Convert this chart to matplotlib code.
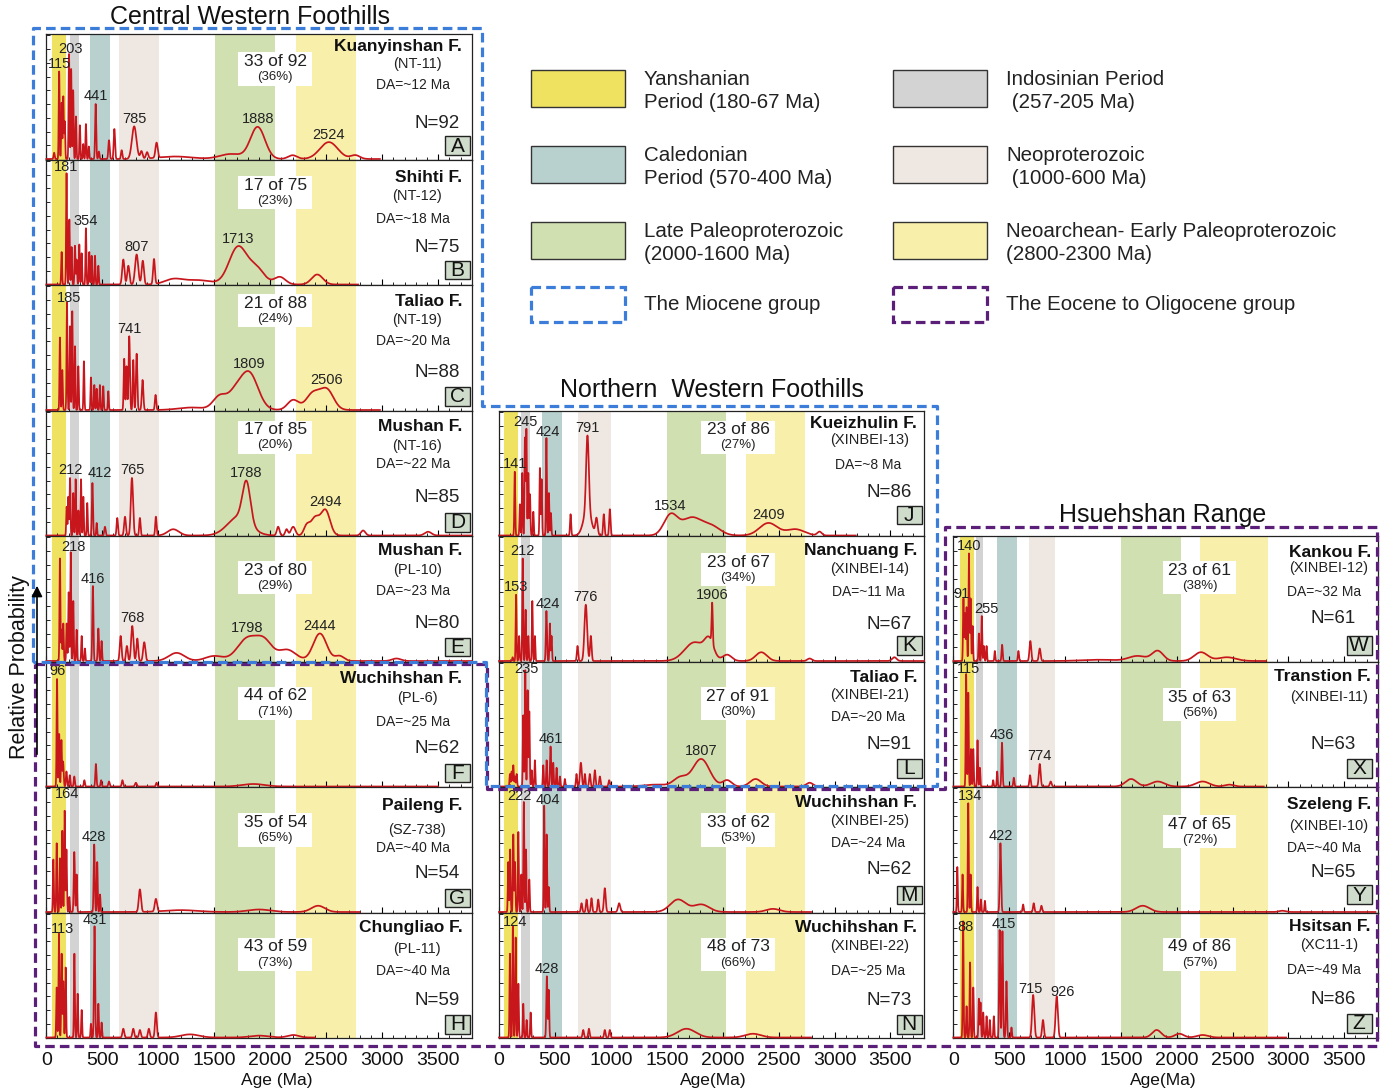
import numpy as np
import matplotlib
matplotlib.use("Agg")
import matplotlib.pyplot as plt
from matplotlib.patches import Rectangle
from matplotlib.ticker import MultipleLocator

plt.rcParams["font.family"] = ["Liberation Sans", "DejaVu Sans"]

W, H = 1380, 1091

# shaded age intervals (Ma), one set per column
BAND_COLORS = ["#efe261", "#d3d3d3", "#b8d1cf", "#efe7e1", "#d1e0b1", "#f8f0aa"]
BANDS_LEFT = [(48, 173), (212, 292), (391, 570), (650, 1007), (1506, 2042), (2230, 2766)]
BANDS_MID = [(45, 167), (196, 277), (384, 560), (705, 997), (1500, 2033), (2205, 2738)]
BANDS_RIGHT = [(60, 182), (202, 262), (390, 570), (676, 908), (1500, 2035), (2205, 2821)]

# probability density components: (age Ma, relative height, spread Ma)
PEAKS_A = [(70, 0.05, 5), (115, 0.70, 4), (137, 0.45, 4), (152, 0.50, 4), (165, 0.30, 4),
           (203, 0.84, 4), (222, 0.72, 4), (240, 0.55, 4), (265, 0.34, 4), (300, 0.27, 4),
           (330, 0.12, 4), (354, 0.28, 4), (380, 0.10, 4), (441, 0.44, 5), (470, 0.06, 5),
           (560, 0.15, 6), (608, 0.24, 6), (673, 0.07, 6), (785, 0.26, 20), (850, 0.06, 10),
           (900, 0.05, 10), (985, 0.12, 10), (1150, 0.02, 150), (1650, 0.04, 100),
           (1888, 0.255, 65), (2200, 0.03, 40), (2524, 0.135, 80), (2760, 0.03, 40)]
PEAKS_B = [(137, 0.26, 4), (181, 0.89, 4), (206, 0.52, 4), (226, 0.30, 4), (256, 0.31, 4),
           (271, 0.20, 4), (295, 0.32, 4), (316, 0.25, 4), (354, 0.45, 4), (384, 0.26, 4),
           (405, 0.23, 4), (435, 0.23, 4), (465, 0.15, 4), (688, 0.20, 10), (733, 0.15, 10),
           (807, 0.24, 14), (862, 0.19, 10), (962, 0.20, 8), (1134, 0.04, 80), (1350, 0.035, 120),
           (1713, 0.30, 80), (1880, 0.12, 70), (2086, 0.06, 50), (2420, 0.08, 50)]
PEAKS_C = [(122, 0.58, 4), (143, 0.32, 4), (185, 0.86, 4), (212, 0.67, 4), (232, 0.79, 4),
           (256, 0.51, 4), (286, 0.35, 4), (336, 0.39, 4), (399, 0.26, 4), (429, 0.20, 4),
           (450, 0.17, 4), (479, 0.20, 4), (509, 0.19, 4), (554, 0.15, 4), (696, 0.41, 5),
           (717, 0.35, 5), (741, 0.59, 6), (777, 0.40, 5), (807, 0.45, 6), (860, 0.24, 7),
           (976, 0.12, 6), (1300, 0.02, 120), (1551, 0.11, 60), (1680, 0.10, 60),
           (1809, 0.30, 80), (2205, 0.08, 50), (2380, 0.13, 60), (2506, 0.16, 60)]
PEAKS_D = [(182, 0.23, 4), (197, 0.31, 4), (212, 0.46, 4), (241, 0.34, 4), (262, 0.45, 4),
           (286, 0.20, 4), (310, 0.45, 4), (331, 0.31, 4), (366, 0.26, 4), (412, 0.42, 5),
           (450, 0.10, 4), (524, 0.07, 6), (634, 0.14, 6), (703, 0.15, 8), (765, 0.46, 10),
           (836, 0.14, 6), (979, 0.15, 6), (1134, 0.05, 50), (1720, 0.15, 100), (1788, 0.32, 35),
           (2071, 0.07, 12), (2146, 0.05, 12), (2205, 0.07, 20), (2325, 0.07, 25),
           (2400, 0.14, 40), (2494, 0.20, 40), (2830, 0.04, 20), (3410, 0.03, 30)]
PEAKS_E = [(122, 0.82, 4), (137, 0.25, 4), (152, 0.30, 4), (182, 0.30, 4), (200, 0.55, 4),
           (218, 0.87, 4), (241, 0.48, 4), (271, 0.25, 4), (316, 0.20, 4), (345, 0.10, 4),
           (416, 0.60, 5), (465, 0.26, 5), (494, 0.16, 4), (664, 0.20, 8), (720, 0.12, 8),
           (768, 0.28, 10), (813, 0.18, 8), (875, 0.15, 10), (1164, 0.065, 70),
           (1500, 0.04, 80), (1798, 0.18, 90), (1950, 0.14, 70), (2150, 0.09, 80),
           (2444, 0.22, 60), (2620, 0.04, 40), (3128, 0.02, 40)]
PEAKS_F = [(96, 0.86, 4), (115, 0.42, 4), (135, 0.37, 4), (150, 0.20, 5), (180, 0.12, 5),
           (210, 0.09, 5), (250, 0.08, 5), (340, 0.05, 5), (443, 0.18, 5), (490, 0.05, 5),
           (560, 0.04, 6), (680, 0.05, 6), (800, 0.03, 8), (985, 0.03, 6), (1850, 0.02, 100)]
PEAKS_G = [(63, 0.42, 4), (93, 0.55, 4), (122, 0.43, 4), (143, 0.65, 4), (164, 0.81, 4),
           (180, 0.50, 4), (206, 0.12, 4), (250, 0.48, 5), (271, 0.30, 4), (428, 0.54, 5),
           (455, 0.40, 4), (480, 0.14, 4), (836, 0.18, 10), (979, 0.10, 10),
           (1200, 0.015, 150), (1900, 0.02, 100), (2428, 0.05, 60)]
PEAKS_H = [(93, 0.40, 4), (113, 0.83, 4), (137, 0.67, 4), (152, 0.45, 4), (173, 0.56, 4),
           (251, 0.67, 4), (280, 0.35, 4), (316, 0.22, 4), (399, 0.11, 4), (431, 0.89, 5),
           (465, 0.27, 4), (494, 0.12, 4), (688, 0.07, 8), (777, 0.07, 8), (836, 0.06, 8),
           (916, 0.07, 8), (979, 0.20, 8), (1283, 0.025, 80), (1900, 0.015, 80), (2205, 0.02, 50)]
PEAKS_J = [(141, 0.51, 4), (187, 0.25, 4), (208, 0.50, 4), (232, 0.78, 4), (245, 0.85, 4),
           (262, 0.50, 4), (277, 0.33, 4), (307, 0.19, 4), (366, 0.54, 4), (381, 0.45, 4),
           (424, 0.78, 4), (446, 0.34, 4), (464, 0.18, 4), (640, 0.17, 5), (791, 0.60, 12),
           (790, 0.20, 35), (872, 0.13, 10), (937, 0.17, 6), (991, 0.21, 6), (1534, 0.16, 60),
           (1720, 0.14, 90), (1900, 0.07, 80), (2409, 0.10, 80), (2650, 0.05, 80), (2866, 0.03, 20)]
PEAKS_K = [(122, 0.03, 4), (153, 0.53, 4), (180, 0.20, 4), (212, 0.82, 4), (238, 0.41, 4),
           (262, 0.20, 4), (298, 0.48, 4), (321, 0.20, 4), (424, 0.40, 5), (455, 0.30, 4),
           (470, 0.20, 4), (702, 0.12, 6), (776, 0.45, 12), (821, 0.20, 7), (1750, 0.15, 90),
           (1880, 0.14, 40), (1906, 0.32, 5), (2040, 0.05, 40), (2345, 0.07, 50),
           (2777, 0.02, 20), (3535, 0.03, 20)]
PEAKS_L = [(98, 0.10, 4), (113, 0.12, 4), (128, 0.17, 4), (143, 0.08, 4), (158, 0.10, 4),
           (217, 0.57, 4), (235, 0.93, 4), (256, 0.77, 4), (271, 0.60, 4), (292, 0.13, 4),
           (321, 0.21, 4), (396, 0.17, 4), (426, 0.21, 4), (461, 0.32, 5), (485, 0.19, 4),
           (515, 0.15, 4), (545, 0.08, 4), (589, 0.06, 4), (693, 0.10, 5), (732, 0.19, 8),
           (768, 0.10, 5), (812, 0.10, 6), (857, 0.13, 6), (902, 0.08, 6), (985, 0.05, 6),
           (1400, 0.015, 100), (1620, 0.07, 60), (1807, 0.22, 75), (2040, 0.05, 40),
           (2294, 0.06, 50), (2777, 0.03, 30)]
PEAKS_M = [(83, 0.40, 4), (100, 0.50, 4), (128, 0.62, 4), (143, 0.40, 4), (173, 0.64, 4),
           (200, 0.30, 4), (222, 0.88, 4), (241, 0.50, 4), (271, 0.26, 4), (404, 0.85, 4),
           (426, 0.62, 4), (445, 0.20, 4), (738, 0.07, 6), (783, 0.10, 6), (827, 0.11, 6),
           (887, 0.10, 6), (946, 0.19, 8), (1074, 0.07, 10), (1601, 0.10, 70),
           (1809, 0.06, 70), (2449, 0.025, 60)]
PEAKS_N = [(98, 0.67, 4), (124, 0.89, 4), (149, 0.80, 4), (173, 0.43, 4), (217, 0.27, 4),
           (247, 0.14, 4), (283, 0.20, 4), (428, 0.49, 5), (445, 0.38, 4), (753, 0.06, 6),
           (804, 0.07, 6), (946, 0.06, 6), (991, 0.06, 6), (1676, 0.07, 80), (2271, 0.03, 70)]
PEAKS_W = [(91, 0.50, 4), (105, 0.38, 4), (119, 0.43, 4), (140, 0.86, 4), (155, 0.50, 4),
           (173, 0.28, 4), (229, 0.22, 4), (255, 0.36, 4), (274, 0.12, 4), (298, 0.12, 4),
           (372, 0.08, 4), (437, 0.13, 5), (583, 0.08, 5), (690, 0.16, 8), (774, 0.10, 8),
           (1300, 0.01, 150), (1650, 0.04, 80), (1830, 0.08, 50), (2217, 0.07, 60), (2450, 0.03, 80)]
PEAKS_X = [(115, 0.90, 4), (134, 0.75, 4), (158, 0.30, 4), (179, 0.30, 4), (217, 0.37, 4),
           (238, 0.15, 4), (357, 0.05, 4), (393, 0.12, 4), (436, 0.35, 5), (542, 0.07, 5),
           (687, 0.09, 6), (774, 0.18, 8), (872, 0.04, 8), (1592, 0.06, 50), (1830, 0.04, 60),
           (2232, 0.04, 60), (2470, 0.015, 40)]
PEAKS_Y = [(36, 0.36, 4), (83, 0.30, 4), (134, 0.87, 4), (155, 0.30, 4), (217, 0.20, 4),
           (247, 0.10, 4), (283, 0.09, 4), (422, 0.55, 6), (625, 0.06, 5), (720, 0.07, 6),
           (789, 0.05, 6), (1696, 0.05, 60), (2946, 0.01, 30)]
PEAKS_Z = [(88, 0.93, 4), (119, 0.25, 4), (150, 0.60, 4), (179, 0.40, 4), (229, 0.31, 4),
           (244, 0.28, 4), (268, 0.20, 4), (298, 0.17, 4), (327, 0.14, 4), (363, 0.17, 4),
           (415, 0.86, 5), (440, 0.85, 5), (476, 0.45, 5), (521, 0.08, 4), (715, 0.34, 10),
           (803, 0.14, 8), (926, 0.33, 10), (1821, 0.06, 40), (2024, 0.03, 40), (2232, 0.02, 50)]

LETTERS = ["A", "B", "C", "D", "E", "F", "G", "H", "J", "K", "L", "M", "N", "W", "X", "Y", "Z"]
PEAKS = [PEAKS_A, PEAKS_B, PEAKS_C, PEAKS_D, PEAKS_E, PEAKS_F, PEAKS_G, PEAKS_H, PEAKS_J,
         PEAKS_K, PEAKS_L, PEAKS_M, PEAKS_N, PEAKS_W, PEAKS_X, PEAKS_Y, PEAKS_Z]
NAMES = ["Kuanyinshan F.", "Shihti F.", "Taliao F.", "Mushan F.", "Mushan F.", "Wuchihshan F.",
         "Paileng F.", "Chungliao F.", "Kueizhulin F.", "Nanchuang F.", "Taliao F.",
         "Wuchihshan F.", "Wuchihshan F.", "Kankou F.", "Transtion F.", "Szeleng F.", "Hsitsan F."]
SAMPLES = ["NT-11", "NT-12", "NT-19", "NT-16", "PL-10", "PL-6", "SZ-738", "PL-11", "XINBEI-13",
           "XINBEI-14", "XINBEI-21", "XINBEI-25", "XINBEI-22", "XINBEI-12", "XINBEI-11",
           "XINBEI-10", "XC11-1"]
DEP_AGE = [12, 18, 20, 22, 23, 25, 40, 40, 8, 11, 20, 24, 25, 32, None, 40, 49]
N_GRAINS = [92, 75, 88, 85, 80, 62, 54, 59, 86, 67, 91, 62, 73, 61, 63, 65, 86]
YOUNG = [33, 17, 21, 17, 23, 44, 35, 43, 23, 23, 27, 33, 48, 23, 35, 47, 49]
PEAK_LABELS = [[115, 203, 441, 785, 1888, 2524], [181, 354, 807, 1713], [185, 741, 1809, 2506],
               [212, 412, 765, 1788, 2494], [218, 416, 768, 1798, 2444], [96], [164, 428],
               [113, 431], [141, 245, 424, 791, 1534, 2409], [153, 212, 424, 776, 1906],
               [235, 461, 1807], [222, 404], [124, 428], [91, 140, 255], [115, 436, 774],
               [134, 422], [88, 415, 715, 926]]
CURVE_END = [2980, 2785, 2980, 3800, 3800, 3500, 2800, 2400, 3190, 3800, 2840, 2790, 2790,
             2800, 2780, 3780, 2980]

# panel grid: column and row of each panel
COLUMN = [0] * 8 + [1] * 5 + [2] * 4
ROW = list(range(8)) + list(range(3, 8)) + list(range(4, 8))
COL_LEFT = [46.3, 499.0, 953.3]
COL_WIDTH = [425.4, 425.0, 424.4]
COL_BANDS = [BANDS_LEFT, BANDS_MID, BANDS_RIGHT]
ROW_TOP, ROW_H = 34.0, 125.5

# text placement inside each panel (axes fractions):
# name y, sample y, DA y, N y, top of count box, bottom of letter box
LAYOUT = {
    "A": (0.90, 0.76, 0.59, 0.29, 0.854, 0.035), "B": (0.854, 0.713, 0.527, 0.296, 0.867, 0.045),
    "C": (0.867, 0.72, 0.55, 0.30, 0.93, 0.037), "D": (0.87, 0.72, 0.57, 0.31, 0.92, 0.034),
    "E": (0.883, 0.73, 0.56, 0.30, 0.80, 0.04), "F": (0.867, 0.71, 0.52, 0.31, 0.80, 0.037),
    "G": (0.854, 0.66, 0.51, 0.31, 0.79, 0.04), "H": (0.878, 0.71, 0.535, 0.30, 0.80, 0.035),
    "J": (0.90, 0.763, 0.565, 0.35, 0.92, 0.093), "K": (0.883, 0.735, 0.55, 0.295, 0.867, 0.053),
    "L": (0.87, 0.735, 0.56, 0.34, 0.795, 0.072), "M": (0.88, 0.727, 0.556, 0.34, 0.79, 0.064),
    "N": (0.88, 0.73, 0.535, 0.30, 0.80, 0.035), "W": (0.87, 0.745, 0.55, 0.34, 0.80, 0.053),
    "X": (0.88, 0.72, None, 0.34, 0.79, 0.072), "Y": (0.862, 0.69, 0.517, 0.318, 0.775, 0.066),
    "Z": (0.885, 0.74, 0.54, 0.31, 0.80, 0.04),
}
# peak labels that sit beside their peak instead of straight above it (age Ma, axes y)
LABEL_MOVE = {
    ("A", 203): (218, 0.88), ("C", 185): (206, 0.90), ("D", 412): (480, 0.50),
    ("E", 218): (241, 0.915), ("G", 164): (182, 0.94), ("H", 113): (143, 0.87),
    ("J", 245): (238, 0.91), ("J", 424): (440, 0.83), ("K", 424): (440, 0.46),
    ("L", 235): (247, 0.94), ("M", 222): (187, 0.93), ("M", 404): (440, 0.90),
    ("N", 124): (143, 0.925), ("W", 91): (74, 0.54), ("W", 255): (298, 0.415),
    ("X", 115): (134, 0.94), ("Y", 134): (149, 0.93), ("Z", 88): (113, 0.885),
    ("Z", 415): (452, 0.91), ("Z", 715): (690, 0.39), ("Z", 926): (976, 0.36),
}
COUNT_X = [0.538, 0.5625, 0.58]
SAMPLE_X = [0.872, 0.873, 0.885]
DA_X = [0.862, 0.868, 0.874]
N_X = [(0.972, "right"), (0.972, "right"), (0.896, "center")]
LETTER_X = [0.937, 0.936, 0.927]

RED = "#c8161d"
fig = plt.figure(figsize=(W / 100, H / 100), dpi=100)
ages = np.arange(0, 3801, 1.0)

for i, letter in enumerate(LETTERS):
    c, r = COLUMN[i], ROW[i]
    top = ROW_TOP + r * ROW_H
    ax = fig.add_axes([COL_LEFT[c] / W, 1 - (top + ROW_H) / H, COL_WIDTH[c] / W, ROW_H / H])
    ax.set_xlim(0, 3800)
    ax.set_ylim(-0.004, 1)

    for (a0, a1), col in zip(COL_BANDS[c], BAND_COLORS):
        ax.axvspan(a0, a1, color=col, lw=0, zorder=0)

    x = ages[ages <= CURVE_END[i]]
    y = np.zeros_like(x)
    for a, h, s in PEAKS[i]:
        y += h * np.exp(-0.5 * ((x - a) / s) ** 2)
    ax.plot(x, y, color=RED, lw=1.25, zorder=3, clip_on=False)

    for lab in PEAK_LABELS[i]:
        if (letter, lab) in LABEL_MOVE:
            lx, ly = LABEL_MOVE[(letter, lab)]
        else:
            win = (x > lab - 25) & (x < lab + 25)
            lx, ly = lab, min(y[win].max() + 0.06, 0.94)
        ax.text(lx, ly, str(lab), ha="center", va="center", fontsize=10.5, color="#222", zorder=5)

    ny, sy, dy, nny, cbt, lby = LAYOUT[letter]
    ax.text(0.978 if c == 0 else 0.984, ny, NAMES[i], transform=ax.transAxes, ha="right",
            va="center", fontsize=12.5, fontweight="bold", color="#111", zorder=6)
    ax.text(SAMPLE_X[c], sy, f"({SAMPLES[i]})", transform=ax.transAxes, ha="center",
            va="center", fontsize=10.5, color="#222", zorder=6)
    if DEP_AGE[i] is not None:
        ax.text(DA_X[c], dy, f"DA=~{DEP_AGE[i]} Ma", transform=ax.transAxes, ha="center",
                va="center", fontsize=10, color="#222", zorder=6)
    nx, nha = N_X[c]
    ax.text(nx, nny, f"N={N_GRAINS[i]}", transform=ax.transAxes, ha=nha, va="center",
            fontsize=13.5, color="#222", zorder=6)

    # young-grain count box
    bw, bh = 0.173, 0.265
    cx = COUNT_X[c]
    ax.add_patch(Rectangle((cx - bw / 2, cbt - bh), bw, bh, transform=ax.transAxes,
                           facecolor="white", edgecolor="none", zorder=2))
    ax.text(cx, cbt - 0.28 * bh, f"{YOUNG[i]} of {N_GRAINS[i]}", transform=ax.transAxes,
            ha="center", va="center", fontsize=12.5, color="#222", zorder=6)
    ax.text(cx, cbt - 0.75 * bh, f"({round(100 * YOUNG[i] / N_GRAINS[i])}%)",
            transform=ax.transAxes, ha="center", va="center", fontsize=9.5, color="#222", zorder=6)

    # panel letter
    lx0 = LETTER_X[c]
    ax.add_patch(Rectangle((lx0, lby), 0.059, 0.15, transform=ax.transAxes,
                           facecolor="#d0dccb", edgecolor="#222", lw=1.0, zorder=4))
    ax.text(lx0 + 0.0295, lby + 0.072, letter, transform=ax.transAxes, ha="center",
            va="center", fontsize=15, color="#111", zorder=6)

    for sp in ax.spines.values():
        sp.set_linewidth(0.9)
        sp.set_color("#222")
    ax.xaxis.set_major_locator(MultipleLocator(500))
    ax.xaxis.set_minor_locator(MultipleLocator(100))
    ax.yaxis.set_major_locator(MultipleLocator(0.11))
    ax.tick_params(axis="x", which="major", direction="in", length=4, width=0.8)
    ax.tick_params(axis="x", which="minor", direction="in", length=2, width=0.6)
    ax.tick_params(axis="y", direction="in", length=3, width=0.6, labelleft=False)
    if r == 7:
        ax.tick_params(axis="x", labelsize=14, pad=10, labelcolor="#111")
    else:
        ax.tick_params(axis="x", labelbottom=False)

# overlay in pixel coordinates for frames, legend and titles
ov = fig.add_axes([0, 0, 1, 1])
ov.set_xlim(0, W)
ov.set_ylim(H, 0)
ov.axis("off")
ov.set_facecolor("none")

BLUE, PURPLE = "#3b7dd8", "#5b1e79"
dash = (0, (3, 1.6))
miocene = [(33, 662), (33, 28), (482, 28), (482, 406), (937, 406), (937, 786), (486, 786),
           (486, 662), (33, 662)]
eocene = [(35, 664), (487, 664), (487, 789), (945, 789), (945, 527), (1377, 527), (1377, 1046),
          (35, 1046), (35, 664)]
ov.plot(*zip(*eocene), color=PURPLE, lw=2.3, ls=dash, zorder=2)
ov.plot(*zip(*miocene), color=BLUE, lw=2.3, ls=dash, zorder=3)

ov.text(250, 17, "Central Western Foothills", ha="center", va="center", fontsize=18, color="#111")
ov.text(712, 390, "Northern  Western Foothills", ha="center", va="center", fontsize=18,
        color="#111")
ov.text(1163, 515, "Hsuehshan Range", ha="center", va="center", fontsize=18, color="#111")

ov.text(20, 667, "Relative Probability", rotation=90, ha="center", va="center", fontsize=15.5,
        color="#111")
ov.annotate("", xy=(37, 583), xytext=(37, 757),
            arrowprops=dict(arrowstyle="-|>", color="black", lw=1.2, mutation_scale=16))
ov.text(277, 1080, "Age (Ma)", ha="center", va="center", fontsize=12.5, color="#111")
ov.text(713, 1080, "Age(Ma)", ha="center", va="center", fontsize=12.5, color="#111")
ov.text(1163, 1080, "Age(Ma)", ha="center", va="center", fontsize=12.5, color="#111")

# legend
LEGEND_TEXT = ["Yanshanian\nPeriod (180-67 Ma)", "Indosinian Period\n (257-205 Ma)",
               "Caledonian\nPeriod (570-400 Ma)", "Neoproterozoic\n (1000-600 Ma)",
               "Late Paleoproterozoic\n(2000-1600 Ma)",
               "Neoarchean- Early Paleoproterozoic\n(2800-2300 Ma)"]
LEGEND_COLORS = [BAND_COLORS[0], BAND_COLORS[1], BAND_COLORS[2], BAND_COLORS[3],
                 BAND_COLORS[4], BAND_COLORS[5]]
for k, (txt, col) in enumerate(zip(LEGEND_TEXT, LEGEND_COLORS)):
    px = 531 if k % 2 == 0 else 893
    py = 70 + 76 * (k // 2)
    ov.add_patch(Rectangle((px, py), 94, 37, facecolor=col, edgecolor="#333", lw=1.0))
    ov.text(px + 113, py + 21, txt, ha="left", va="center", fontsize=14.8, color="#222",
            linespacing=1.22)
for px, col, txt in [(531, BLUE, "The Miocene group"), (893, PURPLE, "The Eocene to Oligocene group")]:
    ov.add_patch(Rectangle((px, 287), 94, 35, facecolor="none", edgecolor=col, lw=2.3, ls=dash))
    ov.text(px + 113, 305, txt, ha="left", va="center", fontsize=14.8, color="#222")

fig.savefig("out.png", dpi=100)
